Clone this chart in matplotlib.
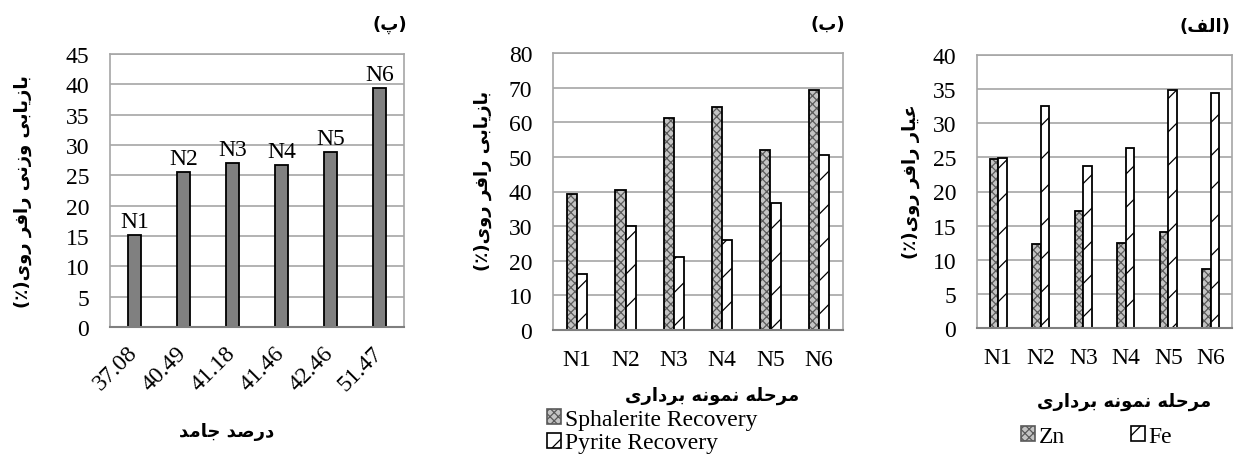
import matplotlib
matplotlib.use('Agg')
import matplotlib.pyplot as plt
from matplotlib.patches import Patch

# data
solid_pct = ['37.08', '40.49', '41.18', '41.46', '42.46', '51.47']
stage_names = ['N1', 'N2', 'N3', 'N4', 'N5', 'N6']
weight_recovery = [15.1, 25.6, 27.0, 26.7, 28.9, 39.4]
sphalerite_rec = [39.4, 40.4, 61.3, 64.4, 51.9, 69.4]
pyrite_rec = [16.2, 30.0, 21.1, 26.0, 36.7, 50.6]
zn_grade = [24.8, 12.3, 17.2, 12.4, 14.0, 8.7]
fe_grade = [24.9, 32.5, 23.7, 26.4, 34.9, 34.4]

# minimal arabic shaping (matplotlib has no bidi / joining)
FORMS = {
    'ا': ('\uFE8D', '\uFE8E', None, None),
    'ب': ('\uFE8F', '\uFE90', '\uFE91', '\uFE92'),
    'پ': ('\uFB56', '\uFB57', '\uFB58', '\uFB59'),
    'ج': ('\uFE9D', '\uFE9E', '\uFE9F', '\uFEA0'),
    'ح': ('\uFEA1', '\uFEA2', '\uFEA3', '\uFEA4'),
    'د': ('\uFEA9', '\uFEAA', None, None),
    'ر': ('\uFEAD', '\uFEAE', None, None),
    'ز': ('\uFEAF', '\uFEB0', None, None),
    'ص': ('\uFEB9', '\uFEBA', '\uFEBB', '\uFEBC'),
    'ع': ('\uFEC9', '\uFECA', '\uFECB', '\uFECC'),
    'ف': ('\uFED1', '\uFED2', '\uFED3', '\uFED4'),
    'ل': ('\uFEDD', '\uFEDE', '\uFEDF', '\uFEE0'),
    'م': ('\uFEE1', '\uFEE2', '\uFEE3', '\uFEE4'),
    'ن': ('\uFEE5', '\uFEE6', '\uFEE7', '\uFEE8'),
    'ه': ('\uFEE9', '\uFEEA', '\uFEEB', '\uFEEC'),
    'و': ('\uFEED', '\uFEEE', None, None),
    'ی': ('\uFBFC', '\uFBFD', '\uFBFE', '\uFBFF'),
}


def fa(text):
    out = []
    for i, ch in enumerate(text):
        if ch not in FORMS:
            out.append(ch)
            continue
        prev = text[i - 1] if i > 0 else ''
        nxt = text[i + 1] if i + 1 < len(text) else ''
        joins_prev = prev in FORMS and FORMS[prev][2] is not None
        joins_next = nxt in FORMS and FORMS[ch][2] is not None
        iso, fin, ini, med = FORMS[ch]
        if joins_prev and joins_next:
            out.append(med)
        elif joins_prev:
            out.append(fin)
        elif joins_next:
            out.append(ini)
        else:
            out.append(iso)
    vis = ''.join(reversed(out))
    return vis.translate(str.maketrans('()', ')('))


plt.rcParams['hatch.linewidth'] = 0.9

SERIF = 'Liberation Serif'
FA_FONT = dict(family='DejaVu Sans', weight='bold')
grid_c = '#a6a6a6'
fs = 17
lab_fs = 13
chk_face, chk_hatch = '#c4c4c4', '#5a5a5a'

fig = plt.figure(figsize=(12.37, 4.56), dpi=100)
W, H = 1237, 456


def make_ax(x0, x1, top, bottom):
    return fig.add_axes([x0 / W, 1 - bottom / H, (x1 - x0) / W, (bottom - top) / H])


def style_ax(ax, ymax, step):
    ax.set_ylim(0, ymax)
    ax.set_yticks(range(0, ymax + 1, step))
    ax.yaxis.grid(True, color=grid_c, linewidth=1.2)
    ax.set_axisbelow(True)
    for s in ax.spines.values():
        s.set_color(grid_c)
        s.set_linewidth(1.2)
    ax.spines['bottom'].set_color('#7f7f7f')
    ax.spines['bottom'].set_linewidth(1.5)
    ax.tick_params(length=0, labelsize=fs)
    ax.tick_params(axis='y', pad=15)
    for lab in ax.get_yticklabels() + ax.get_xticklabels():
        lab.set_fontfamily(SERIF)


def hatched_bars(ax, xs, vals, width, hatch, hcolor, face):
    # hatch drawn in its own colour, black outline on top
    ax.bar(xs, vals, width=width, color=face, edgecolor=hcolor, linewidth=0, hatch=hatch)
    ax.bar(xs, vals, width=width, fill=False, edgecolor='black', linewidth=1.3)


x = list(range(len(stage_names)))

# (پ)
ax1 = make_ax(110, 404, 55, 328)
ax1.bar(x, weight_recovery, width=0.25, color='#808080', edgecolor='black', linewidth=1.3)
ax1.set_xlim(-0.5, 5.5)
for xi, v, n in zip(x, weight_recovery, stage_names):
    ax1.text(xi, v + 0.5, n, ha='center', va='bottom', fontsize=fs, family=SERIF)
ax1.set_xticks(x)
ax1.set_xticklabels(solid_pct, rotation=45, ha='right', va='center', rotation_mode='anchor')
style_ax(ax1, 45, 5)
ax1.tick_params(axis='x', pad=16)
ax1.set_ylabel(fa('بازیابی وزنی رافر روی(٪)'), fontsize=lab_fs, **FA_FONT)
ax1.yaxis.set_label_coords(-0.265, 0.5)
ax1.set_xlabel(fa('درصد جامد'), fontsize=lab_fs, **FA_FONT)
ax1.xaxis.set_label_coords(0.398, -0.348)
fig.text(407 / W, 1 - 25 / H, fa('(پ)'), ha='right', va='center', fontsize=13, **FA_FONT)

# (ب)
bw = 0.207
ax2 = make_ax(553, 843, 54, 331)
hatched_bars(ax2, [i - bw / 2 for i in x], sphalerite_rec, bw, 'xxxx', chk_hatch, chk_face)
hatched_bars(ax2, [i + bw / 2 for i in x], pyrite_rec, bw, '/', 'black', 'white')
ax2.set_xlim(-0.5, 5.5)
ax2.set_xticks(x)
ax2.set_xticklabels(stage_names)
style_ax(ax2, 80, 10)
ax2.tick_params(axis='x', pad=13.5)
ax2.set_ylabel(fa('بازیابی رافر روی(٪)'), fontsize=lab_fs, **FA_FONT)
ax2.yaxis.set_label_coords(-0.21, 0.54)
ax2.set_xlabel(fa('مرحله نمونه برداری'), fontsize=lab_fs, **FA_FONT)
ax2.xaxis.set_label_coords(0.548, -0.2)
fig.text(845 / W, 1 - 25 / H, fa('(ب)'), ha='right', va='center', fontsize=13, **FA_FONT)
h2 = [Patch(facecolor=chk_face, edgecolor=chk_hatch, hatch='xxxx', label='Sphalerite Recovery'),
      Patch(facecolor='white', edgecolor='black', hatch='/', label='Pyrite Recovery')]
leg2 = ax2.legend(handles=h2, loc='upper left', bbox_to_anchor=(547 / W, 1 - 410 / H),
                  bbox_transform=fig.transFigure, frameon=False, handlelength=0.6,
                  handleheight=0.6, handletextpad=0.15, labelspacing=0.1, borderaxespad=0,
                  borderpad=0, prop={'family': SERIF, 'size': fs})
for p in leg2.get_patches():
    p.set_linewidth(1.2)

# (الف)
bw3 = 0.2
ax3 = make_ax(977, 1232, 56, 329)
hatched_bars(ax3, [i - bw3 / 2 for i in x], zn_grade, bw3, 'xxxx', chk_hatch, chk_face)
hatched_bars(ax3, [i + bw3 / 2 for i in x], fe_grade, bw3, '/', 'black', 'white')
ax3.set_xlim(-0.5, 5.5)
ax3.set_xticks(x)
ax3.set_xticklabels(stage_names)
style_ax(ax3, 40, 5)
ax3.tick_params(axis='x', pad=13.5)
ax3.set_ylabel(fa('عیار رافر روی(٪)'), fontsize=lab_fs, **FA_FONT)
ax3.yaxis.set_label_coords(-0.224, 0.54)
ax3.set_xlabel(fa('مرحله نمونه برداری'), fontsize=lab_fs, **FA_FONT)
ax3.xaxis.set_label_coords(0.576, -0.234)
fig.text(1230 / W, 1 - 27 / H, fa('(الف)'), ha='right', va='center', fontsize=13, **FA_FONT)
h3 = [Patch(facecolor=chk_face, edgecolor=chk_hatch, hatch='xxxx', label='Zn'),
      Patch(facecolor='white', edgecolor='black', hatch='/', label='Fe')]
leg3 = ax3.legend(handles=h3, loc='upper left', bbox_to_anchor=(1021 / W, 1 - 427 / H),
                  bbox_transform=fig.transFigure, frameon=False, ncol=2, handlelength=0.6,
                  handleheight=0.6, handletextpad=0.15, columnspacing=2.8, borderaxespad=0,
                  borderpad=0, prop={'family': SERIF, 'size': fs})
for p in leg3.get_patches():
    p.set_linewidth(1.2)

fig.savefig('out.png', dpi=100)
